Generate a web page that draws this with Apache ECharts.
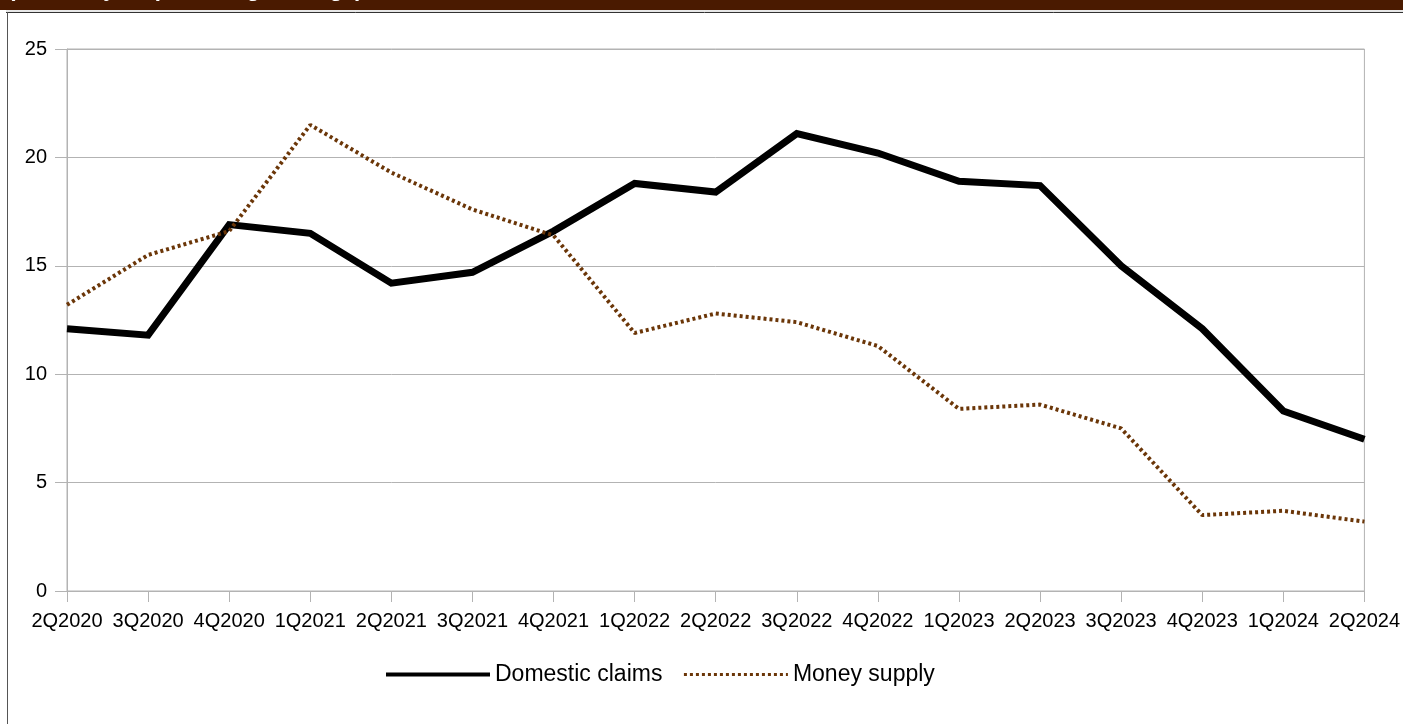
<!DOCTYPE html>
<html>
<head>
<meta charset="utf-8">
<script src="https://cdn.jsdelivr.net/npm/echarts@6/dist/echarts.min.js"></script>
<style>
    html, body { margin: 0; padding: 0; background: #fff; }
    #chart { width: 1403px; height: 724px; }
</style>
</head>
<body>
<div id="chart"></div>
<script>
var quarters = ['2Q2020', '3Q2020', '4Q2020', '1Q2021', '2Q2021', '3Q2021', '4Q2021', '1Q2022', '2Q2022',
    '3Q2022', '4Q2022', '1Q2023', '2Q2023', '3Q2023', '4Q2023', '1Q2024', '2Q2024'];
var domesticClaims = [12.1, 11.8, 16.9, 16.5, 14.2, 14.7, 16.6, 18.8, 18.4, 21.1, 20.2, 18.9, 18.7, 15.0, 12.1, 8.3, 7.0];
var moneySupply = [13.2, 15.5, 16.6, 21.5, 19.3, 17.6, 16.4, 11.9, 12.8, 12.4, 11.3, 8.4, 8.6, 7.5, 3.5, 3.7, 3.2];
var yTicks = [0, 5, 10, 15, 20, 25];

var titleText = '(Year-on-year percentage change)';
var gridGray = '#b3b3b3';
var brown = '#6b3608';
var font = 'Liberation Sans, Arial, sans-serif';

var myChart = echarts.init(document.getElementById('chart'));
var option = {
    backgroundColor: '#fff',
    animation: false,
    textStyle: { fontFamily: font },
    graphic: [
        { type: 'rect', x: 0, y: 0, shape: { width: 1403, height: 10 }, style: { fill: '#4a1a00' }, z: 10 },
        // title sits above the top edge, only its descenders show in the band
        { type: 'text', x: 8, y: 1, style: { text: titleText, fill: '#fff', font: 'bold 22px ' + font, verticalAlign: 'bottom' }, z: 11 },
        { type: 'line', shape: { x1: 6, y1: 11, x2: 1403, y2: 11 }, style: { stroke: '#cfcfcf', lineWidth: 1 } },
        { type: 'line', shape: { x1: 6, y1: 12.5, x2: 1403, y2: 12.5 }, style: { stroke: '#333', lineWidth: 1 } },
        { type: 'line', shape: { x1: 7.5, y1: 12, x2: 7.5, y2: 724 }, style: { stroke: '#555', lineWidth: 1 } }
    ],
    grid: {
        left: 67, right: 38, top: 49, bottom: 133,
        show: true, borderColor: gridGray, borderWidth: 1
    },
    legend: {
        left: 379, top: 658,
        itemWidth: 104, itemHeight: 14, itemGap: 20,
        textStyle: { fontSize: 23, color: '#000', fontFamily: font },
        itemStyle: { opacity: 0 },
        data: [
            { name: 'Domestic claims', lineStyle: { width: 4 } },
            { name: 'Money supply', lineStyle: { width: 3 } }
        ]
    },
    xAxis: {
        type: 'category',
        data: quarters,
        boundaryGap: false,
        axisLine: { lineStyle: { color: gridGray } },
        axisTick: { show: true, length: 11, interval: 0, lineStyle: { color: gridGray } },
        axisLabel: { interval: 0, fontSize: 20, color: '#000', margin: 20 },
        splitLine: { show: false }
    },
    yAxis: {
        type: 'value',
        min: yTicks[0], max: yTicks[yTicks.length - 1], interval: 5,
        axisLine: { show: true, lineStyle: { color: gridGray } },
        axisTick: { show: true, length: 12, lineStyle: { color: gridGray } },
        axisLabel: { fontSize: 20, color: '#000', margin: 20 },
        splitLine: { lineStyle: { color: gridGray } }
    },
    series: [
        {
            name: 'Domestic claims', type: 'line', data: domesticClaims,
            symbol: 'none',
            lineStyle: { color: '#000', width: 7, join: 'miter' },
            itemStyle: { color: '#000' }
        },
        {
            name: 'Money supply', type: 'line', data: moneySupply,
            symbol: 'none',
            lineStyle: { color: brown, width: 4, type: [3, 3] },
            itemStyle: { color: brown }
        }
    ]
};
myChart.setOption(option);
</script>
</body>
</html>
